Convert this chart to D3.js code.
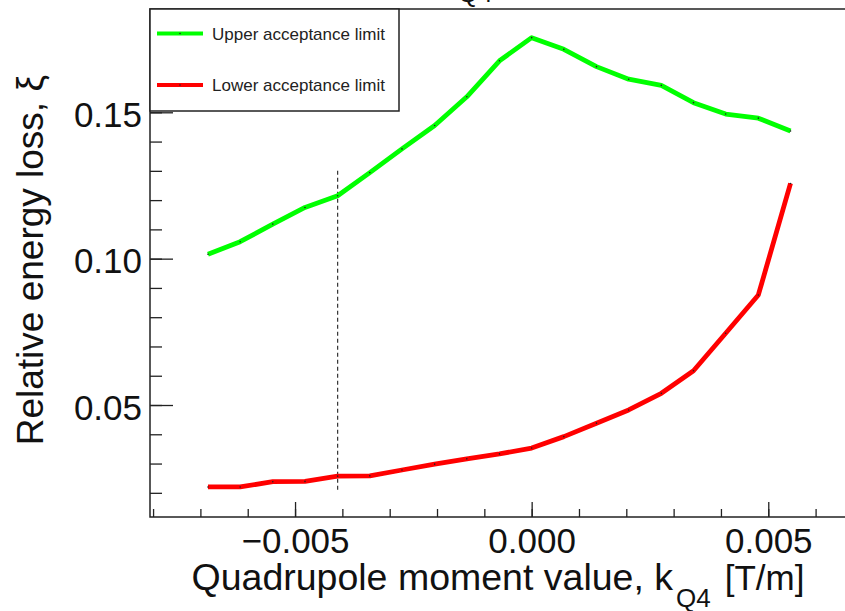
<!DOCTYPE html>
<html>
<head>
<meta charset="utf-8">
<script src="https://cdn.jsdelivr.net/npm/d3@7"></script>
<style>
  html, body { margin: 0; padding: 0; background: #fff; }
  svg { display: block; font-family: "Liberation Sans", Arial, Helvetica, sans-serif; }
</style>
</head>
<body>
<svg id="chart" width="845" height="611"></svg>
<script>
// ---- data ----
const kValues = [-0.00684, -0.00616, -0.00547, -0.00479, -0.00410, -0.00342, -0.00274, -0.00205, -0.00137, -0.00068,
                 0.00000, 0.00068, 0.00137, 0.00205, 0.00274, 0.00342, 0.00410, 0.00479, 0.00547];
const upperLimit = [0.1015, 0.1058, 0.1118, 0.1175, 0.1215, 0.1294, 0.1375, 0.1455, 0.1553, 0.1676,
                    0.1755, 0.1715, 0.1656, 0.1613, 0.1592, 0.1533, 0.1494, 0.1480, 0.1436];
const lowerLimit = [0.0220, 0.0220, 0.0238, 0.0239, 0.0257, 0.0258, 0.0278, 0.0298, 0.0316, 0.0333,
                    0.0353, 0.0392, 0.0438, 0.0483, 0.0540, 0.0617, 0.0745, 0.0876, 0.1257];
const seriesNames = ["Upper acceptance limit", "Lower acceptance limit"];
const seriesColors = ["#00ff00", "#ff0000"];
const markerK = [-0.00410];         // dashed vertical marker
const markerRange = [0.020, 0.130];
const xMajorTicks = [-0.005, 0.000, 0.005];
const xTickLabels = ["\u22120.005", "0.000", "0.005"];
const yMajorTicks = [0.05, 0.10, 0.15];
const yTickLabels = ["0.05", "0.10", "0.15"];
const xDomain = [-0.008065, 0.006727];
const yDomain = [0.01174, 0.18529];

// ---- layout ----
const svg = d3.select("#chart");
const L = 150, R = 850, T = 9, B = 517;
const x = d3.scaleLinear().domain(xDomain).range([L, R]);
const y = d3.scaleLinear().domain(yDomain).range([B, T]);

const xMinor = d3.range(-8, 7).map(d => d * 0.001);
const yMinor = d3.range(2, 19).map(d => d * 0.01);

// minor ticks (via axes)
svg.append("g").attr("transform", `translate(0,${B})`)
  .call(d3.axisBottom(x).tickValues(xMinor).tickSizeInner(-8).tickSizeOuter(0).tickFormat(""))
  .call(g => g.select(".domain").remove())
  .call(g => g.selectAll("line").attr("stroke", "#222").attr("stroke-width", 1.3));
svg.append("g").attr("transform", `translate(${L},0)`)
  .call(d3.axisLeft(y).tickValues(yMinor).tickSizeInner(-12).tickSizeOuter(0).tickFormat(""))
  .call(g => g.select(".domain").remove())
  .call(g => g.selectAll("line").attr("stroke", "#222").attr("stroke-width", 1.3));

// major ticks with labels
svg.append("g").attr("transform", `translate(0,${B})`)
  .call(d3.axisBottom(x).tickValues(xMajorTicks).tickSizeInner(-15).tickSizeOuter(0).tickPadding(11.5)
        .tickFormat((d, i) => xTickLabels[i]))
  .call(g => g.select(".domain").remove())
  .call(g => g.selectAll("line").attr("stroke", "#222").attr("stroke-width", 1.3))
  .call(g => g.selectAll("text").attr("font-size", 35).attr("fill", "#111")
        .attr("font-family", "'Liberation Sans', Arial, sans-serif"));
svg.append("g").attr("transform", `translate(${L},0)`)
  .call(d3.axisLeft(y).tickValues(yMajorTicks).tickSizeInner(-23).tickSizeOuter(0).tickPadding(8)
        .tickFormat((d, i) => yTickLabels[i]))
  .call(g => g.select(".domain").remove())
  .call(g => g.selectAll("line").attr("stroke", "#222").attr("stroke-width", 1.3))
  .call(g => g.selectAll("text").attr("font-size", 35).attr("fill", "#111").attr("dy", "0.4em")
        .attr("font-family", "'Liberation Sans', Arial, sans-serif"));

// frame
svg.append("rect").attr("x", L).attr("y", T).attr("width", R - L).attr("height", B - T)
  .attr("fill", "none").attr("stroke", "#222").attr("stroke-width", 1.5);

// dashed marker line
svg.selectAll(".marker").data(markerK).enter().append("line")
  .attr("x1", d => x(d)).attr("x2", d => x(d))
  .attr("y1", y(markerRange[1])).attr("y2", y(markerRange[0]))
  .attr("stroke", "#333").attr("stroke-width", 1.2).attr("stroke-dasharray", "4,3");

// series
const series = [upperLimit, lowerLimit];
const line = d3.line().x((d, i) => x(kValues[i])).y(d => y(d));
series.forEach((vals, s) => {
  svg.append("path").datum(vals).attr("d", line)
    .attr("fill", "none").attr("stroke", seriesColors[s]).attr("stroke-width", 4.8)
    .attr("stroke-linejoin", "round");
  svg.append("g").selectAll("circle").data(vals).enter().append("circle")
    .attr("cx", (d, i) => x(kValues[i])).attr("cy", d => y(d)).attr("r", 0.8).attr("fill", "#222");
});

// legend
const lg = svg.append("g");
lg.append("rect").attr("x", L).attr("y", T).attr("width", 249).attr("height", 102)
  .attr("fill", "#fff").attr("stroke", "#222").attr("stroke-width", 1.5);
const legendY = [33.5, 85];
seriesNames.forEach((name, s) => {
  lg.append("line").attr("x1", 157).attr("x2", 203).attr("y1", legendY[s]).attr("y2", legendY[s])
    .attr("stroke", seriesColors[s]).attr("stroke-width", 4);
  lg.append("circle").attr("cx", 180).attr("cy", legendY[s]).attr("r", 0.8).attr("fill", "#222");
  lg.append("text").attr("x", 212).attr("y", legendY[s] + 6).attr("font-size", 17).attr("fill", "#222")
    .text(name);
});

// axis titles
const xt = svg.append("text").attr("x", 191.5).attr("y", 589.5).attr("font-size", 37.5).attr("fill", "#111");
xt.append("tspan").text("Quadrupole moment value, k");
xt.append("tspan").attr("font-size", 26).attr("dx", 3).attr("dy", 17).text("Q4");
xt.append("tspan").attr("font-size", 35).attr("dx", 14).attr("dy", -17).text("[T/m]");

svg.append("text").attr("transform", "translate(43,75) rotate(-90)").attr("text-anchor", "end")
  .attr("font-size", 37).attr("fill", "#111").text("Relative energy loss, \u03be");

// top title fragment (cut off by the canvas edge, as in the reference)
svg.append("text").attr("x", 458).attr("y", 2).attr("font-size", 26).attr("fill", "#111").text("Q4");
</script>
</body>
</html>
